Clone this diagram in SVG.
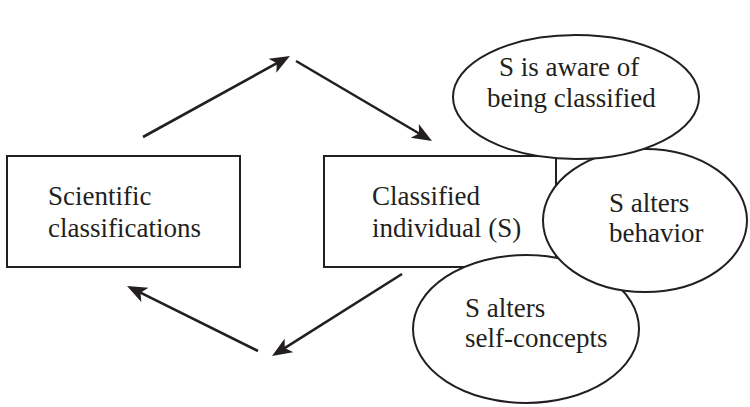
<svg xmlns="http://www.w3.org/2000/svg" width="750" height="407" viewBox="0 0 750 407">
<defs>
<style>
.box{fill:#fff;stroke:#231f20;stroke-width:2}
.ell{fill:#fff;stroke:#231f20;stroke-width:2}
.lbl{font-family:'Liberation Serif','Times New Roman',serif;font-size:27px;fill:#231f20}
.arr{stroke:#231f20;stroke-width:2.6;fill:none;marker-end:url(#ah)}
</style>
<marker id="ah" viewBox="0 0 20 16" refX="14" refY="8" markerWidth="21" markerHeight="16" markerUnits="userSpaceOnUse" orient="auto">
<path d="M0,0 L20,8 L0,16 L5,8 Z" fill="#231f20"/>
</marker>
</defs>
<rect width="750" height="407" fill="#fff"/>
<g id="connectors">
<line class="arr" x1="143" y1="137" x2="284.7" y2="58.9"/>
<line class="arr" x1="296" y1="61" x2="426.8" y2="138"/>
<line class="arr" x1="402" y1="274" x2="277.1" y2="352.8"/>
<line class="arr" x1="258" y1="351" x2="132.4" y2="288.7"/>
</g>
<g id="scientific">
<rect class="box" x="7" y="156" width="233" height="111"/>
<text class="lbl" x="48" y="205">Scientific</text>
<text class="lbl" x="48" y="237">classifications</text>
</g>
<g id="individual">
<rect class="box" x="324" y="156" width="232" height="111"/>
<text class="lbl" x="372" y="205">Classified</text>
<text class="lbl" x="372" y="237">individual (S)</text>
</g>
<g id="selfconcepts">
<ellipse class="ell" cx="526" cy="329" rx="113" ry="74"/>
<text class="lbl" x="465" y="317">S alters</text>
<text class="lbl" x="465" y="347">self-concepts</text>
</g>
<g id="behavior">
<ellipse class="ell" cx="645" cy="220.5" rx="102" ry="71.5"/>
<text class="lbl" x="609" y="212">S alters</text>
<text class="lbl" x="609" y="242">behavior</text>
</g>
<g id="aware">
<ellipse class="ell" cx="576" cy="97" rx="123" ry="62"/>
<text class="lbl" x="499" y="76">S is aware of</text>
<text class="lbl" x="487" y="107">being classified</text>
</g>
</svg>
